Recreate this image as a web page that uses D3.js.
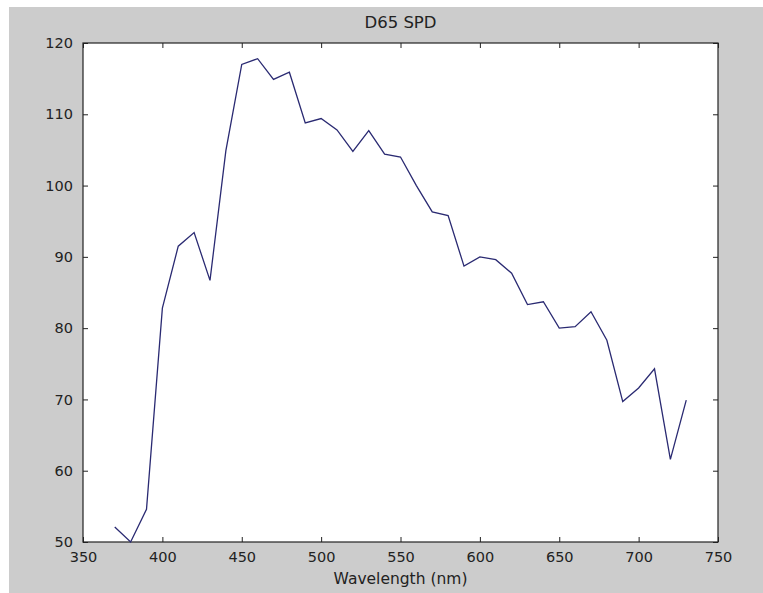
<!DOCTYPE html>
<html>
<head>
<meta charset="utf-8">
<script src="https://cdn.jsdelivr.net/npm/d3@7"></script>
<style>
  body { margin: 0; background: #fff; }
  svg text { font-family: "DejaVu Sans", "Liberation Sans", Arial, sans-serif; fill: #222; }
</style>
</head>
<body>
<svg id="chart" width="763" height="593"></svg>
<script>
// D65 spectral power distribution, 10 nm steps
const wavelengths = [370, 380, 390, 400, 410, 420, 430, 440, 450, 460, 470, 480, 490, 500,
  510, 520, 530, 540, 550, 560, 570, 580, 590, 600, 610, 620, 630, 640, 650, 660, 670, 680,
  690, 700, 710, 720, 730];
const spd = [52.1, 50.0, 54.6, 82.8, 91.5, 93.4, 86.7, 104.9, 117.0, 117.8, 114.9, 115.9,
  108.8, 109.4, 107.8, 104.8, 107.7, 104.4, 104.0, 100.0, 96.3, 95.8, 88.7, 90.0, 89.6, 87.7,
  83.3, 83.7, 80.0, 80.2, 82.3, 78.3, 69.7, 71.6, 74.3, 61.6, 69.9];
const xTicks = [350, 400, 450, 500, 550, 600, 650, 700, 750];
const yTicks = [50, 60, 70, 80, 90, 100, 110, 120];

const svg = d3.select("#chart");
const margin = {left: 83, right: 45, top: 43, bottom: 51};
const W = 763, H = 593;

// figure background
svg.append("rect")
  .attr("x", 9).attr("y", 7)
  .attr("width", W - 9).attr("height", H - 7)
  .attr("fill", "#cccccc");

let x = d3.scaleLinear().domain([350, 750]).range([margin.left, W - margin.right]);
let y = d3.scaleLinear().domain([50, 120]).range([H - margin.bottom, margin.top]);

svg.append("rect")
  .attr("x", x(350)).attr("y", y(120))
  .attr("width", x(750) - x(350)).attr("height", y(50) - y(120))
  .attr("fill", "#fff");

// ticks pointing inward, on all four sides
function styleAxis(g) {
  g.select(".domain").remove();
  g.selectAll("line").attr("stroke", "#222");
  g.selectAll("text").attr("font-size", 14.5).attr("fill", "#222");
}

svg.append("g")
  .attr("transform", `translate(0,${y(50)})`)
  .call(d3.axisBottom(x).tickValues(xTicks).tickSize(-5).tickPadding(10))
  .call(styleAxis);
svg.append("g")
  .attr("transform", `translate(0,${y(120)})`)
  .call(d3.axisTop(x).tickValues(xTicks).tickSize(-5).tickFormat(""))
  .call(styleAxis);
svg.append("g")
  .attr("transform", `translate(${x(350)},0)`)
  .call(d3.axisLeft(y).tickValues(yTicks).tickSize(-5).tickPadding(10))
  .call(styleAxis);
svg.append("g")
  .attr("transform", `translate(${x(750)},0)`)
  .call(d3.axisRight(y).tickValues(yTicks).tickSize(-5).tickFormat(""))
  .call(styleAxis);

// box
svg.append("rect")
  .attr("x", x(350)).attr("y", y(120))
  .attr("width", x(750) - x(350)).attr("height", y(50) - y(120))
  .attr("fill", "none")
  .attr("stroke", "#222")
  .attr("stroke-width", 1.2);

const line = d3.line()
  .x((d, i) => x(wavelengths[i]))
  .y(d => y(d));

svg.append("path")
  .datum(spd)
  .attr("d", line)
  .attr("fill", "none")
  .attr("stroke", "#2a2a72")
  .attr("stroke-width", 1.3);

svg.append("text")
  .attr("x", (x(350) + x(750)) / 2)
  .attr("y", 28)
  .attr("text-anchor", "middle")
  .attr("font-size", 16.5)
  .text("D65 SPD");

svg.append("text")
  .attr("x", (x(350) + x(750)) / 2)
  .attr("y", 584)
  .attr("text-anchor", "middle")
  .attr("font-size", 15.5)
  .text("Wavelength (nm)");
</script>
</body>
</html>
